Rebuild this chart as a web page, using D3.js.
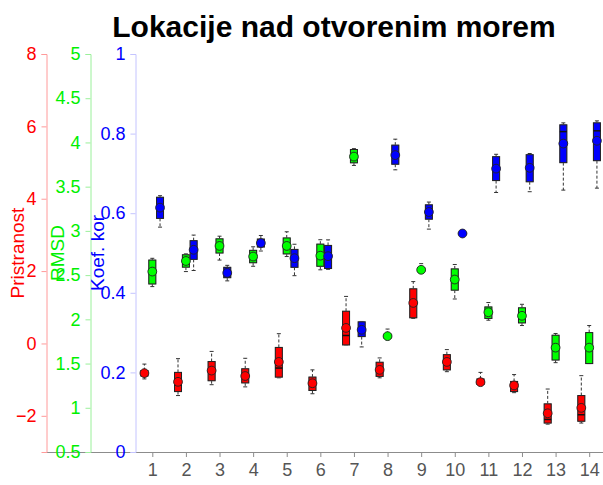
<!DOCTYPE html>
<html>
<head>
<meta charset="utf-8">
<script src="https://cdn.jsdelivr.net/npm/d3@7"></script>
<style>
  html, body { margin: 0; padding: 0; background: #fff; }
  svg { display: block; }
  text { font-family: "Liberation Sans", Arial, sans-serif; }
</style>
</head>
<body>
<svg id="chart" width="603" height="485"></svg>
<script>
// Station groups along the x axis
const categories = [1, 2, 3, 4, 5, 6, 7, 8, 9, 10, 11, 12, 13, 14];

// Pristranost (bias) — whisker low, Q1, median, Q3, whisker high, mean
const biasLow  = [-0.98, -1.44, -1.14, -1.20, -0.95, -1.39, -0.04, -0.95, 0.69, -0.78, -1.15, -1.36, -2.23, -2.20];
const biasQ1   = [-0.90, -1.33, -1.03, -1.09, -0.93, -1.30, -0.04, -0.91, 0.71, -0.73, -1.13, -1.33, -2.20, -2.15];
const biasMed  = [-0.82, -1.15, -0.80, -0.92, -0.68, -1.12, 0.22, -0.75, 1.05, -0.52, -1.07, -1.18, -2.10, -1.97];
const biasQ3   = [-0.75, -0.80, -0.50, -0.70, -0.11, -0.93, 0.89, -0.52, 1.51, -0.31, -0.98, -1.05, -1.67, -1.44];
const biasHigh = [-0.57, -0.42, -0.22, -0.41, 0.27, -0.73, 1.30, -0.40, 1.71, -0.17, -0.80, -0.86, -1.26, -0.89];
const biasMean = [-0.82, -1.06, -0.75, -0.90, -0.51, -1.10, 0.43, -0.73, 1.12, -0.51, -1.07, -1.16, -1.93, -1.78];

// RMSD
const rmsdLow  = [2.37, 2.54, 2.67, 2.60, 2.71, 2.56, 3.74, 1.77, 2.52, 2.23, 1.99, 1.93, 1.51, 1.50];
const rmsdQ1   = [2.40, 2.59, 2.75, 2.64, 2.74, 2.60, 3.77, 1.79, 2.54, 2.33, 2.01, 1.96, 1.54, 1.50];
const rmsdMed  = [2.54, 2.66, 2.83, 2.71, 2.83, 2.72, 3.84, 1.81, 2.56, 2.45, 2.08, 2.04, 1.68, 1.68];
const rmsdQ3   = [2.67, 2.73, 2.91, 2.78, 2.92, 2.85, 3.92, 1.83, 2.58, 2.57, 2.14, 2.13, 1.82, 1.85];
const rmsdHigh = [2.69, 2.74, 2.94, 2.82, 2.99, 2.90, 3.93, 1.89, 2.63, 2.62, 2.19, 2.17, 1.84, 1.93];
const rmsdMean = [2.54, 2.66, 2.83, 2.71, 2.83, 2.72, 3.84, 1.81, 2.56, 2.45, 2.08, 2.04, 1.68, 1.68];

// Koef. kor (correlation coefficient)
const corrLow  = [0.565, 0.456, 0.430, 0.505, 0.443, 0.459, 0.264, 0.709, 0.560, 0.545, 0.652, 0.654, 0.658, 0.663];
const corrQ1   = [0.587, 0.484, 0.438, 0.515, 0.464, 0.461, 0.290, 0.723, 0.585, 0.547, 0.682, 0.679, 0.727, 0.732];
const corrMed  = [0.615, 0.510, 0.450, 0.525, 0.487, 0.492, 0.307, 0.746, 0.603, 0.549, 0.712, 0.714, 0.805, 0.807];
const corrQ3   = [0.640, 0.531, 0.464, 0.535, 0.509, 0.519, 0.327, 0.771, 0.621, 0.551, 0.742, 0.747, 0.822, 0.827];
const corrHigh = [0.644, 0.545, 0.469, 0.544, 0.522, 0.533, 0.328, 0.786, 0.628, 0.553, 0.748, 0.750, 0.827, 0.832];
const corrMean = [0.614, 0.508, 0.450, 0.525, 0.487, 0.492, 0.307, 0.746, 0.603, 0.549, 0.712, 0.714, 0.775, 0.782];

// Tick values for the three stacked y axes
const biasTicks = [-2, 0, 2, 4, 6, 8];
const rmsdTicks = [0.5, 1, 1.5, 2, 2.5, 3, 3.5, 4, 4.5, 5];
const corrTicks = [0, 0.2, 0.4, 0.6, 0.8, 1];

const svg = d3.select("#chart");
const plotTop = 54, plotBottom = 452;

const x = d3.scaleLinear().domain([0.5, 14.5]).range([135.5, 606]);
const yBias = d3.scaleLinear().domain([-3, 8]).range([plotBottom, plotTop]);
const yRmsd = d3.scaleLinear().domain([0.5, 5]).range([plotBottom, plotTop]);
const yCorr = d3.scaleLinear().domain([0, 1]).range([plotBottom, plotTop]);

// Title
svg.append("text")
  .attr("x", 334).attr("y", 37)
  .attr("text-anchor", "middle")
  .attr("font-size", 30).attr("font-weight", "bold")
  .attr("fill", "#000")
  .text("Lokacije nad otvorenim morem");

// Bottom axis
const xAxis = svg.append("g").attr("transform", `translate(0,${plotBottom})`)
  .call(d3.axisBottom(x).tickValues(categories).tickFormat(d3.format("d")).tickSizeOuter(0).tickSize(5).tickPadding(6));
xAxis.select(".domain").remove();
svg.append("line").attr("x1", 46).attr("x2", 603).attr("y1", plotBottom + 0.5).attr("y2", plotBottom + 0.5)
  .attr("stroke", "#8c8c8c").attr("stroke-width", 1);
xAxis.selectAll(".tick line").attr("stroke", "#8c8c8c");
xAxis.selectAll(".tick text").attr("fill", "#555").attr("font-size", 18)
  .attr("font-family", "'Liberation Sans', Arial, sans-serif");

// Stacked left axes
function leftAxis(scale, xPos, ticks, fmt, color, lineColor, title, titleX) {
  const g = svg.append("g").attr("transform", `translate(${xPos},0)`)
    .call(d3.axisLeft(scale).tickValues(ticks).tickFormat(fmt).tickSizeOuter(0).tickSize(5).tickPadding(5));
  g.select(".domain").attr("stroke", lineColor);
  g.selectAll(".tick line").attr("stroke", lineColor);
  g.selectAll(".tick text").attr("fill", color).attr("font-size", 18)
    .attr("font-family", "'Liberation Sans', Arial, sans-serif");
  svg.append("text")
    .attr("transform", `translate(${titleX},${(plotTop + plotBottom) / 2}) rotate(-90)`)
    .attr("text-anchor", "middle").attr("dominant-baseline", "central")
    .attr("font-size", 19).attr("fill", color)
    .text(title);
}
const minusFmt = d => (d < 0 ? "\u2212" + Math.abs(d) : String(d));
leftAxis(yBias, 46.5, biasTicks, minusFmt, "#ff0000", "#ff9a9a", "Pristranost", 17);
leftAxis(yRmsd, 90.5, rmsdTicks, d => String(d), "#00f000", "#9af09a", "RMSD", 57);
leftAxis(yCorr, 135.5, corrTicks, d => String(d), "#0000ff", "#c4c4ff", "Koef. kor", 97);

// Box plots
const boxW = 7;
function series(scale, low, q1, med, q3, high, mean, offset, fill) {
  const g = svg.append("g");
  categories.forEach((c, i) => {
    const cx = x(c + offset);
    // whiskers (dashed) with short caps
    const wg = g.append("g").attr("stroke", "#333").attr("stroke-width", 1);
    wg.append("line").attr("x1", cx).attr("x2", cx).attr("y1", scale(q3[i])).attr("y2", scale(high[i]))
      .attr("stroke-dasharray", "3,2");
    wg.append("line").attr("x1", cx).attr("x2", cx).attr("y1", scale(q1[i])).attr("y2", scale(low[i]))
      .attr("stroke-dasharray", "3,2");
    wg.append("line").attr("x1", cx - 2).attr("x2", cx + 2).attr("y1", scale(high[i])).attr("y2", scale(high[i]));
    wg.append("line").attr("x1", cx - 2).attr("x2", cx + 2).attr("y1", scale(low[i])).attr("y2", scale(low[i]));
    // box
    g.append("rect")
      .attr("x", cx - boxW / 2).attr("width", boxW)
      .attr("y", scale(q3[i])).attr("height", Math.max(0.5, scale(q1[i]) - scale(q3[i])))
      .attr("fill", fill).attr("stroke", "#222").attr("stroke-width", 1)
      .style("filter", "drop-shadow(0 0 0.6px #999)");
    // median
    g.append("line").attr("x1", cx - boxW / 2).attr("x2", cx + boxW / 2)
      .attr("y1", scale(med[i])).attr("y2", scale(med[i]))
      .attr("stroke", "#111").attr("stroke-width", 1.5);
    // mean marker
    g.append("circle").attr("cx", cx).attr("cy", scale(mean[i])).attr("r", 4.4)
      .attr("fill", fill).attr("stroke", "#222").attr("stroke-width", 0.9);
  });
}
series(yBias, biasLow, biasQ1, biasMed, biasQ3, biasHigh, biasMean, -0.235, "#ff0000");
series(yRmsd, rmsdLow, rmsdQ1, rmsdMed, rmsdQ3, rmsdHigh, rmsdMean, 0, "#00ff00");
series(yCorr, corrLow, corrQ1, corrMed, corrQ3, corrHigh, corrMean, 0.23, "#0000ff");
</script>
</body>
</html>
